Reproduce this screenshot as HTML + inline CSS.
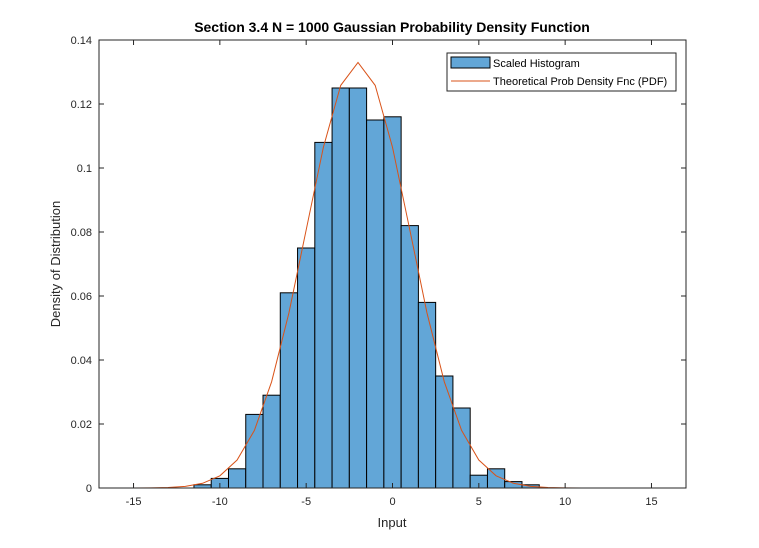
<!DOCTYPE html>
<html><head><meta charset="utf-8"><style>
body{margin:0;background:#fff;}
svg{display:block;font-family:"Liberation Sans",sans-serif;}
</style></head><body>
<svg id="chart" width="759" height="548">
<rect width="759" height="548" fill="#fff"/>
<g id="plot"></g>
</svg>
<script>
const binEdgesStart = [-11.5,-10.5,-9.5,-8.5,-7.5,-6.5,-5.5,-4.5,-3.5,-2.5,-1.5,-0.5,0.5,1.5,2.5,3.5,4.5,5.5,6.5,7.5];
const binDensity = [0.001,0.003,0.006,0.023,0.029,0.061,0.075,0.108,0.125,0.125,0.115,0.116,0.082,0.058,0.035,0.025,0.004,0.006,0.002,0.001];
const pdfX = [-15,-14,-13,-12,-11,-10,-9,-8,-7,-6,-5,-4,-3,-2,-1,0,1,2,3,4,5,6,7,8,9,10,11,12,13,14,15];
const pdfY = [0.000011,0.000045,0.00016,0.00051,0.00148,0.0038,0.00874,0.018,0.0332,0.0547,0.0807,0.1065,0.1258,0.133,0.1258,0.1065,0.0807,0.0547,0.0332,0.018,0.00874,0.0038,0.00148,0.00051,0.00016,0.000045,0.000011,0.000002,0,0,0];
const xTicks = [-15,-10,-5,0,5,10,15];
const yTicks = [0,0.02,0.04,0.06,0.08,0.1,0.12,0.14];
const yTickLabels = ["0","0.02","0.04","0.06","0.08","0.1","0.12","0.14"];

const L=99,R=686,T=40,B=488,XMIN=-17,XMAX=17,YMAX=0.14;
const sx=v=>L+(v-XMIN)/(XMAX-XMIN)*(R-L);
const sy=v=>B-v/YMAX*(B-T);
const NS="http://www.w3.org/2000/svg";
const g=document.getElementById('plot');
function mk(tag,attrs,parent){const e=document.createElementNS(NS,tag);for(const k in attrs)e.setAttribute(k,attrs[k]);(parent||g).appendChild(e);return e;}

// bars
binEdgesStart.forEach((x0,i)=>{
  const r=mk('rect',{x:sx(x0),y:sy(binDensity[i]),width:sx(x0+1)-sx(x0),height:B-sy(binDensity[i]),fill:'#62a6d7',stroke:'#000','stroke-width':1});
  
  
});
// pdf line
const pts=pdfX.map((x,i)=>sx(x).toFixed(1)+','+sy(pdfY[i]).toFixed(1)).join(' ');
const pl=mk('polyline',{points:pts,fill:'none',stroke:'#d95319','stroke-width':1});



// axes box
const box=mk('rect',{x:L,y:T,width:R-L,height:B-T,fill:'none',stroke:'#262626','stroke-width':1});



xTicks.forEach(v=>{
  const x=sx(v);
  mk('line',{x1:x,x2:x,y1:B,y2:B-5,stroke:'#262626'});
  mk('line',{x1:x,x2:x,y1:T,y2:T+5,stroke:'#262626'});
  const t=mk('text',{x:x,y:B+17,'text-anchor':'middle','font-size':11,fill:'#262626'});
  t.textContent=String(v).replace('-','-');
  
  
});
yTicks.forEach((v,i)=>{
  const y=sy(v);
  mk('line',{x1:L,x2:L+5,y1:y,y2:y,stroke:'#262626'});
  mk('line',{x1:R,x2:R-5,y1:y,y2:y,stroke:'#262626'});
  const t=mk('text',{x:L-7,y:y+4,'text-anchor':'end','font-size':11,fill:'#262626'});
  t.textContent=yTickLabels[i];
  
  
});

const title=mk('text',{x:392,y:32,'text-anchor':'middle','font-size':14,'font-weight':'bold',fill:'#000'});
title.textContent='Section 3.4 N = 1000 Gaussian Probability Density Function';


const xl=mk('text',{x:392,y:527,'text-anchor':'middle','font-size':13,fill:'#262626'});
xl.textContent='Input';


const yl=mk('text',{x:0,y:0,'text-anchor':'middle','font-size':13,fill:'#262626',transform:'translate(60,264) rotate(-90)'});
yl.textContent='Density of Distribution';



// legend
const lg=mk('g',{});


mk('rect',{x:447,y:53,width:229,height:38,fill:'#fff',stroke:'#262626'},lg);
mk('rect',{x:451,y:57,width:39,height:11,fill:'#62a6d7',stroke:'#000'},lg);
const t1=mk('text',{x:493,y:67,'font-size':11,fill:'#000'},lg);
t1.textContent='Scaled Histogram';


mk('line',{x1:451,x2:490,y1:81,y2:81,stroke:'#d95319'},lg);
const t2=mk('text',{x:493,y:85,'font-size':11,fill:'#000'},lg);
t2.textContent='Theoretical Prob Density Fnc (PDF)';


</script>
</body></html>
